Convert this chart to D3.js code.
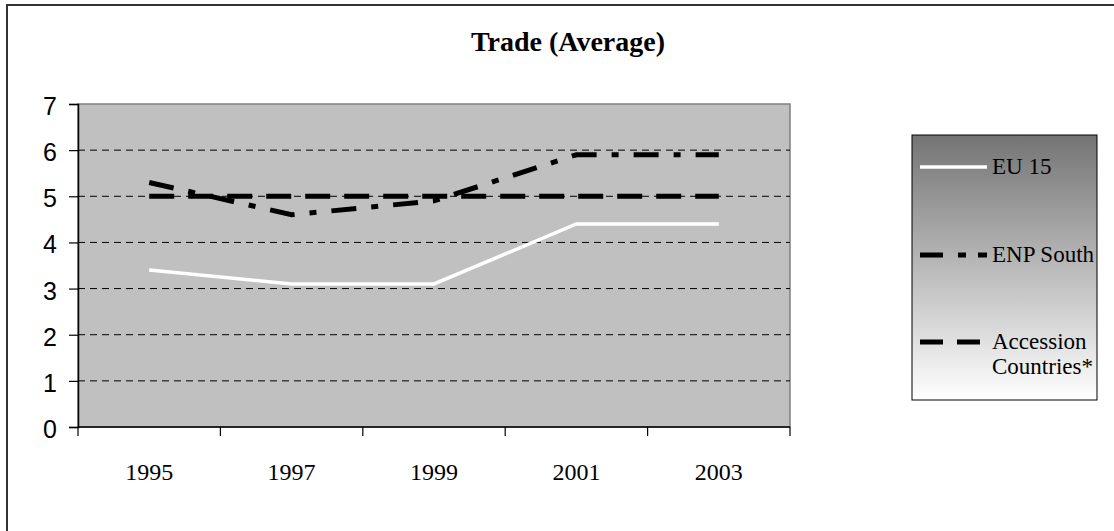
<!DOCTYPE html>
<html>
<head>
<meta charset="utf-8">
<script src="https://cdn.jsdelivr.net/npm/d3@7"></script>
<style>
  body { margin: 0; background: #fff; }
  svg { display: block; }
</style>
</head>
<body>
<svg id="chart" width="1114" height="531"></svg>
<script>
// data
var years = ["1995", "1997", "1999", "2001", "2003"];
var eu15 = [3.4, 3.1, 3.1, 4.4, 4.4];
var enpSouth = [5.3, 4.6, 4.9, 5.9, 5.9];
var accession = [5, 5, 5, 5, 5];
var yTicks = [0, 1, 2, 3, 4, 5, 6, 7];

var serif = "'Liberation Serif', 'Times New Roman', serif";
var svg = d3.select("#chart");

// outer frame (right/bottom run off the picture)
svg.append("rect")
    .attr("x", 7).attr("y", 5)
    .attr("width", 1130).attr("height", 560)
    .attr("fill", "#fff")
    .attr("stroke", "#333")
    .attr("stroke-width", 2);

svg.append("text")
    .attr("x", 568).attr("y", 51)
    .attr("text-anchor", "middle")
    .style("font-family", serif)
    .style("font-weight", "bold")
    .style("font-size", "28px")
    .text("Trade (Average)");

var pLeft = 78, pTop = 104, pRight = 790, pBottom = 427;

var x = d3.scaleBand().domain(years).range([pLeft, pRight]);
var y = d3.scaleLinear().domain([0, 7]).range([pBottom, pTop]);

// plot area
svg.append("rect")
    .attr("x", pLeft).attr("y", pTop)
    .attr("width", pRight - pLeft).attr("height", pBottom - pTop)
    .attr("fill", "#c0c0c0")
    .attr("stroke", "#808080")
    .attr("stroke-width", 1.5);

// gridlines
svg.append("g")
  .selectAll("line")
  .data(yTicks.filter(function(d) { return d > 0 && d < 7; }))
  .enter().append("line")
    .attr("x1", pLeft).attr("x2", pRight)
    .attr("y1", function(d) { return y(d); })
    .attr("y2", function(d) { return y(d); })
    .attr("stroke", "#000")
    .attr("stroke-width", 1)
    .attr("stroke-dasharray", "7,5");

// y axis
var yAxis = svg.append("g")
    .attr("transform", "translate(" + pLeft + ",0)")
    .call(d3.axisLeft(y).tickValues(yTicks).tickSize(9).tickPadding(12).tickFormat(d3.format("d")));
yAxis.select(".domain").attr("stroke", "#000").attr("stroke-width", 1.5);
yAxis.selectAll(".tick line").attr("stroke", "#000").attr("stroke-width", 1.2);
yAxis.selectAll("text")
    .attr("dy", "0.42em")
    .style("font-family", "'Liberation Sans', Arial, sans-serif")
    .style("font-size", "25px")
    .attr("fill", "#000");

// x axis: ticks on band edges
var xAxis = svg.append("g")
    .attr("transform", "translate(0," + pBottom + ")");
xAxis.append("line")
    .attr("x1", pLeft).attr("x2", pRight)
    .attr("stroke", "#000").attr("stroke-width", 1.5);
var edges = years.map(function(d) { return x(d); }).concat([pRight]);
xAxis.selectAll(".tk")
  .data(edges)
  .enter().append("line")
    .attr("class", "tk")
    .attr("x1", function(d) { return d; }).attr("x2", function(d) { return d; })
    .attr("y1", 0).attr("y2", 9)
    .attr("stroke", "#000").attr("stroke-width", 1.2);
xAxis.selectAll(".lbl")
  .data(years)
  .enter().append("text")
    .attr("class", "lbl")
    .attr("x", function(d) { return x(d) + x.bandwidth() / 2; })
    .attr("y", 53)
    .attr("text-anchor", "middle")
    .style("font-family", serif)
    .style("font-size", "24px")
    .text(function(d) { return d; });

var line = d3.line()
    .x(function(d, i) { return x(years[i]) + x.bandwidth() / 2; })
    .y(function(d) { return y(d); });

var series = [
  { name: "EU 15", values: eu15, color: "#fff", width: 3.5, dash: null, legDash: null },
  { name: "ENP South", values: enpSouth, color: "#000", width: 5, dash: "25,15,7,15", legDash: "23,15,8,12" },
  { name: "Accession", values: accession, color: "#000", width: 5, dash: "25,14", legDash: "23,14" }
];

// accession first, ENP south over it, EU 15 on top
[series[2], series[1], series[0]].forEach(function(s) {
  svg.append("path")
      .datum(s.values)
      .attr("d", line)
      .attr("fill", "none")
      .attr("stroke", s.color)
      .attr("stroke-width", s.width)
      .attr("stroke-dasharray", s.dash);
});

// legend
var grad = svg.append("defs").append("linearGradient")
    .attr("id", "lg").attr("x1", 0).attr("y1", 0).attr("x2", 0).attr("y2", 1);
grad.append("stop").attr("offset", "0%").attr("stop-color", "#747474");
grad.append("stop").attr("offset", "100%").attr("stop-color", "#fff");

svg.append("rect")
    .attr("x", 912).attr("y", 135)
    .attr("width", 185).attr("height", 265)
    .attr("fill", "url(#lg)")
    .attr("stroke", "#000")
    .attr("stroke-width", 1);

var legendY = [167, 255, 342];
var legendLabels = [["EU 15"], ["ENP South"], ["Accession", "Countries*"]];
series.forEach(function(s, i) {
  svg.append("line")
      .attr("x1", 920).attr("x2", 987)
      .attr("y1", legendY[i]).attr("y2", legendY[i])
      .attr("stroke", s.color)
      .attr("stroke-width", s.width)
      .attr("stroke-dasharray", s.legDash);
  var t = svg.append("text")
      .attr("y", legendY[i] + 7)
      .style("font-family", serif)
      .style("font-size", "23px");
  legendLabels[i].forEach(function(l, j) {
    t.append("tspan")
        .attr("x", 992)
        .attr("dy", j === 0 ? 0 : 25)
        .text(l);
  });
});
</script>
</body>
</html>
